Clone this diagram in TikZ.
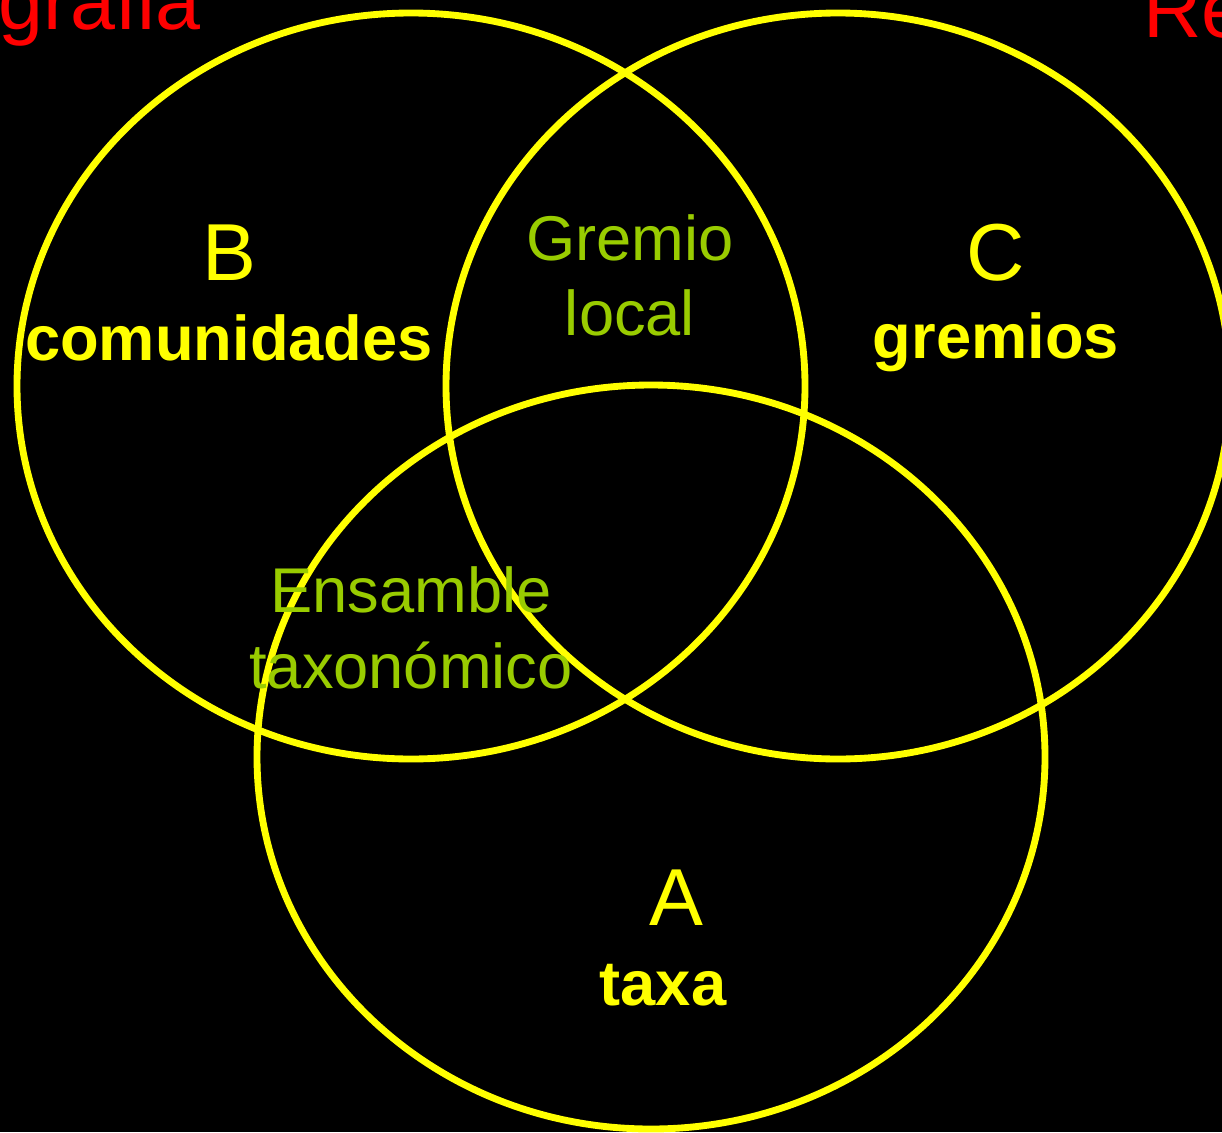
\documentclass[tikz,border=0pt]{standalone}
\usepackage{fontspec}
\setmainfont{Liberation Sans}
\usepackage{xcolor}
\definecolor{vennyellow}{HTML}{FFFF00}
\definecolor{venngreen}{HTML}{99CC00}
\definecolor{vennred}{HTML}{FF0000}
\begin{document}
\begin{tikzpicture}[x=0.02cm, y=-0.02cm,
  set/.style={draw=vennyellow, line width=3.9pt},
  letter/.style={text=vennyellow, anchor=base, inner sep=0pt, font=\fontsize{46}{46}\selectfont},
  setname/.style={text=vennyellow, anchor=base, inner sep=0pt, font=\fontsize{36}{36}\selectfont\bfseries},
  overlap/.style={text=venngreen, anchor=base, inner sep=0pt, font=\fontsize{36}{36}\selectfont},
  title/.style={text=vennred, anchor=base, inner sep=0pt, font=\fontsize{46}{46}\selectfont}]
  \fill[black] (0,0) rectangle (1222,1132);
  \useasboundingbox (0,0) rectangle (1222,1132);
  \clip (0,0) rectangle (1222,1132);

  % the three sets
  \draw[set] (411,386) ellipse [x radius=394, y radius=373];
  \draw[set] (838,386) ellipse [x radius=392, y radius=373];
  \draw[set] (651,757) ellipse [x radius=394, y radius=372];

  % cut titles at the top
  \node[title, anchor=base east] (leftTitle) at (201,30) {grafia};
  \node[title, anchor=base west] (rightTitle) at (1143,38) {Re};

  \node[letter] (B) at (229,280) {B};
  \node[setname] (Bname) at (229,360) {comunidades};
  \node[letter] (C) at (996,280) {C};
  \node[setname] (Cname) at (996,358) {gremios};
  \node[letter] (A) at (676,925) {A};
  \node[setname] (Aname) at (663,1005) {taxa};

  \node[overlap] (gremio) at (630,260) {Gremio};
  \node[overlap] (local) at (630,335) {local};
  \node[overlap] (ensamble) at (411,612) {Ensamble};
  \node[overlap] (taxon) at (411,688) {taxonómico};
\end{tikzpicture}
\end{document}
